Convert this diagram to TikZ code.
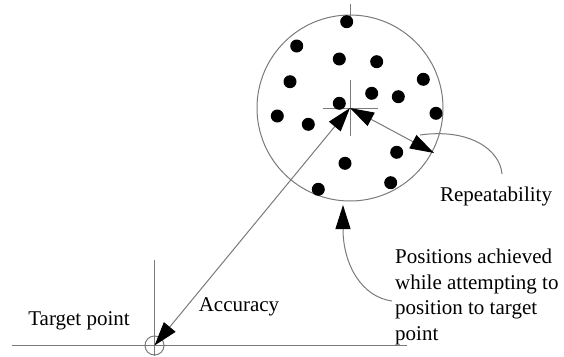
\documentclass[tikz,border=0pt]{standalone}
\usepackage{fontspec}
\setmainfont{Liberation Serif}
\usetikzlibrary{arrows.meta}
\definecolor{linegray}{HTML}{7A7A7A}
\begin{document}
\begin{tikzpicture}[x=1pt,y=-1pt,
  thinline/.style={draw=linegray,line width=1pt},
  dot/.style={circle,fill=black,inner sep=0pt,minimum size=13pt},
  bigtip/.style={-{Triangle[length=24pt,width=15pt,color=black]}},
  bothtips/.style={{Triangle[length=24pt,width=15pt,color=black]}-{Triangle[length=24pt,width=15pt,color=black]}},
  lbl/.style={font=\fontsize{21}{25.5}\selectfont,inner sep=0pt}]
\useasboundingbox (0,0) rectangle (564,356);
% big circle and cross
\coordinate (c) at (350,108);
\draw[thinline] (c) circle[radius=93];
\draw[thinline] (323,108) -- (378,108);
\draw[thinline] (350,80) -- (350,136);
\draw[thinline] (350,4) -- (350,20);
% dots
\foreach \i/\x/\y in {1/346.7/21.7,2/296.7/46,3/339.3/59,4/376.7/61.7,5/290/81.7,6/423.3/79.3,7/371.7/93.3,8/398.3/96.7,9/339.3/103.3,10/277.3/116,11/308.3/124.3,12/436/113.3,13/396.7/152.3,14/345/163.3,15/318.3/189.3,16/390.7/182.7}
  \node[dot] (d\i) at (\x,\y) {};
% target
\coordinate (t) at (154.5,345.5);
\coordinate (hl) at (12,345.5);
\coordinate (hr) at (407,345.5);
\coordinate (vt) at (154.5,260);
\coordinate (vb) at (154.5,356);
\draw[thinline] (hl) -- (hr);
\draw[thinline] (vt) -- (vb);
\draw[thinline] (t) circle[radius=9.5];
% accuracy arrow
\draw[thinline,bothtips] (t) -- (c);
% repeatability arrow
\coordinate (re) at (434,153);
\draw[thinline,bothtips] (c) -- (re);
% labels
\node[lbl] (tp) at (79,321) {Target point};
\node[lbl] (acc) at (239,307) {Accuracy};
\node[lbl] (rep) at (496,196) {Repeatability};
\node[lbl,align=left,anchor=north west] (pos) at (395,249) {Positions achieved\\while attempting to\\position to target\\point};
% leaders
\coordinate (rs) at (420,135);
\draw[thinline] (rs) .. controls (470,128) and (500,150) .. (502,174);
\coordinate (cb) at (343,205);
\coordinate (ps) at (392,301);
\draw[thinline,bigtip] (ps) .. controls (362,297) and (343,265) .. (cb);
\end{tikzpicture}
\end{document}
